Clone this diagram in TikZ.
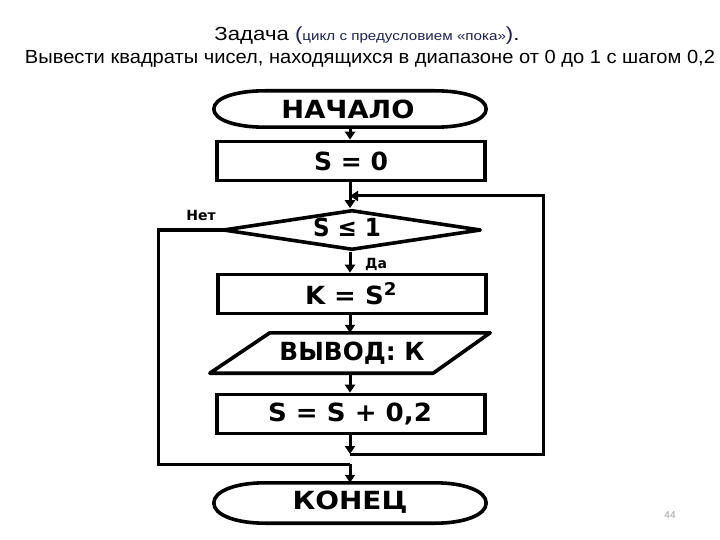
\documentclass[tikz,border=0pt]{standalone}
\usepackage{fontspec}
\usepackage{graphicx}
\setmainfont{Liberation Sans}
\newfontfamily\heavyfont{DejaVu Sans Bold}
\usetikzlibrary{arrows.meta,shapes.geometric,calc}
\definecolor{navy}{HTML}{1E2250}
\definecolor{pgnum}{HTML}{A0A0A0}
\newcommand\wfit[2]{\resizebox{#1pt}{\height}{#2}}
\begin{document}
\begin{tikzpicture}[x=1pt,y=-1pt,
  big/.style={font=\fontsize{25}{25}\heavyfont, inner sep=0pt},
  box/.style={draw, line width=3.6pt, minimum width=268pt, minimum height=39pt, inner sep=0pt},
  term/.style={minimum width=272pt, minimum height=36pt, inner sep=0pt},
  conn/.style={line width=3pt},
  arr/.style={conn, -{Triangle[width=10pt,length=8pt]}},
  small/.style={font=\fontsize{14}{14}\heavyfont, inner sep=0pt},
  outline/.style={line width=3.6pt, line join=round}
]
\useasboundingbox[fill=white] (0,0) rectangle (720,540);

% titles
\node[anchor=base, inner sep=0pt] (t1) at (367,41)
  {\wfit{305}{{\fontsize{19}{19}\selectfont Задача }{\color{navy}\fontsize{19}{19}\selectfont(}{\color{navy}\fontsize{13}{13}\selectfont цикл с предусловием «пока»}{\color{navy}\fontsize{19}{19}\selectfont)}{\fontsize{19}{19}\selectfont.}}};
\node[anchor=base, inner sep=0pt] (t2) at (370,64)
  {\wfit{690}{\fontsize{19}{19}\selectfont Вывести квадраты чисел, находящихся в диапазоне от 0 до 1 с шагом 0,2}};

% start terminal
\node[term] (start) at (350,109) {};
\draw[outline] ($(start.north)+(-85,0)$) -- ($(start.north)+(85,0)$)
  .. controls ($(start.north east)+(-22,0)$) and ($(start.east)+(0,-11)$) .. (start.east)
  .. controls ($(start.east)+(0,11)$) and ($(start.south east)+(-22,0)$) .. ($(start.south)+(85,0)$)
  -- ($(start.south)+(-85,0)$)
  .. controls ($(start.south west)+(22,0)$) and ($(start.west)+(0,11)$) .. (start.west)
  .. controls ($(start.west)+(0,-11)$) and ($(start.north west)+(22,0)$) .. cycle;
\node[big] (startt) at (348,109) {\wfit{133}{НАЧАЛО}};

% S = 0
\node[box] (s0) at (351,161) {};
\node[big] (s0t) at (351,161) {\wfit{74}{S = 0}};

% diamond
\node[diamond, draw, line width=3.6pt, line join=round, minimum width=258pt, minimum height=40pt, inner sep=0pt, aspect=6] (dia) at (352,230) {};
\node[big] (diat) at (347,227) {\wfit{68}{S ≤ 1}};

% K = S^2
\node[box] (k) at (352,294) {};
\node[big] (kt) at (351,294) {\wfit{92}{K = S\textsuperscript{2}}};

% output parallelogram
\node[minimum width=280pt, minimum height=40pt, inner sep=0pt] (out) at (350,353) {};
\draw[outline] ($(out.north west)+(60,0)$) -- (out.north east) -- ($(out.south east)+(-57,0)$) -- (out.south west) -- cycle;
\node[big] (outt) at (352,353) {\wfit{145}{ВЫВОД: К}};

% S = S + 0,2
\node[box] (inc) at (351,414) {};
\node[big] (inct) at (350,414) {\wfit{164}{S = S + 0,2}};

% end terminal
\node[term, minimum height=40pt] (end) at (350,503) {};
\draw[outline] ($(end.north)+(-85,0)$) -- ($(end.north)+(85,0)$)
  .. controls ($(end.north east)+(-22,0)$) and ($(end.east)+(0,-12)$) .. (end.east)
  .. controls ($(end.east)+(0,12)$) and ($(end.south east)+(-22,0)$) .. ($(end.south)+(85,0)$)
  -- ($(end.south)+(-85,0)$)
  .. controls ($(end.south west)+(22,0)$) and ($(end.west)+(0,12)$) .. (end.west)
  .. controls ($(end.west)+(0,-12)$) and ($(end.north west)+(22,0)$) .. cycle;
\node[big] (endt) at (350,502) {\wfit{115}{КОНЕЦ}};

% coordinates for loops
\coordinate (loopin) at (350,196);
\coordinate (rtop) at (543,196);
\coordinate (rbot) at (543,454);
\coordinate (jn) at (350,454);
\coordinate (lw) at (158,230);
\coordinate (lb) at (158,464);
\coordinate (jm) at (350,464);

% connectors
\draw[arr] (start.south) -- (s0.north -| start.south);
\draw[arr] (s0.south -| start.south) -- (dia.north -| start.south);
\draw[arr] (dia.south -| start.south) -- (k.north -| start.south);
\draw[arr] (k.south -| start.south) -- (out.north);
\draw[arr] (out.south) -- (inc.north -| start.south);
\draw[arr] (inc.south -| start.south) -- (jn);
\draw[arr] (jn) -- (rbot) -- (rtop) -- (loopin);
\draw[conn, shorten <=-4pt] (dia.west) -- (lw) -- (lb) -- (jm);
\draw[arr] (jm) -- (end.north);

% labels
\node[small, anchor=base] (no) at (201,221) {Нет};
\node[small, anchor=base] (yes) at (376,268) {Да};
\node[font=\fontsize{10}{10}\selectfont, text=pgnum, inner sep=0pt] (pg) at (670,515) {44};
\end{tikzpicture}
\end{document}
